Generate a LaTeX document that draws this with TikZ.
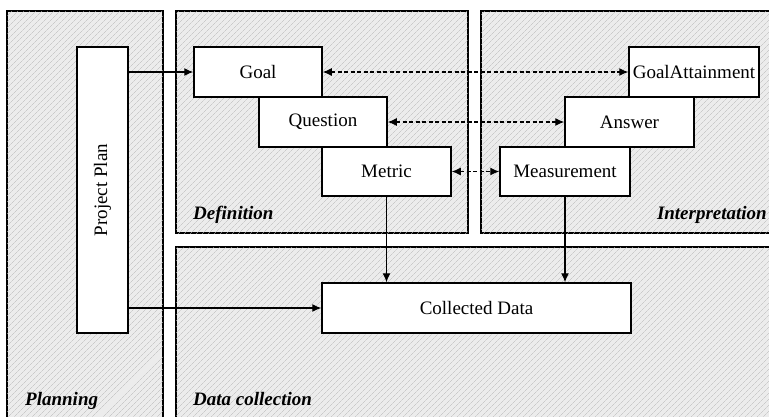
\documentclass[tikz,border=0pt]{standalone}
\usepackage{fontspec}
\setmainfont{Liberation Serif}
\usetikzlibrary{arrows.meta,patterns.meta}

\begin{document}
\begin{tikzpicture}[x=1pt,y=-1pt,
  panel/.style={draw=black,line width=1.6pt,fill=gray!15,
    postaction={pattern={Lines[angle=45,distance=4pt,line width=0.45pt]},pattern color=gray!55}},
  box/.style={draw,line width=1.5pt,fill=white,inner sep=0pt,font=\fontsize{19}{22}\selectfont},
  tag/.style={font=\fontsize{19}{22}\selectfont\bfseries\itshape,inner sep=0pt},
  tip/.tip={Latex[length=9pt,width=8pt]},
  flow/.style={line width=1.2pt,-tip},
  link/.style={line width=1.2pt,dash pattern=on 4pt off 2.5pt,tip-tip}]
  \useasboundingbox (0,0) rectangle (769,416);
  \clip (0,0) rectangle (769,416);

  % the four phase panels
  \path[panel] (7,11) rectangle (163,430);
  \path[panel] (176,11) rectangle (468,233);
  \path[panel] (481,11) rectangle (780,233);
  \path[panel] (176,247) rectangle (780,430);

  % panel titles
  \node[tag,anchor=base west] (tplan) at (25,405) {Planning};
  \node[tag,anchor=base west] (tdef) at (193,219) {Definition};
  \node[tag,anchor=base east] (tint) at (767,219) {Interpretation};
  \node[tag,anchor=base west] (tcol) at (193,405) {Data collection};

  % boxes
  \node[box,minimum width=51pt,minimum height=286pt] (plan) at (102.5,190) {\rotatebox{90}{Project Plan}};
  \node[box,minimum width=128pt,minimum height=50pt] (goal) at (258,72) {Goal};
  \node[box,minimum width=128pt,minimum height=50pt] (question) at (323,122) {Question};
  \node[box,minimum width=129pt,minimum height=49pt] (metric) at (386.5,171.5) {Metric};
  \node[box,minimum width=130pt,minimum height=50pt] (attain) at (694,72) {GoalAttainment};
  \node[box,minimum width=129pt,minimum height=50pt] (answer) at (629.5,122) {Answer};
  \node[box,minimum width=130pt,minimum height=49pt] (measure) at (565,171.5) {Measurement};
  \node[box,minimum width=309pt,minimum height=50pt] (data) at (476.5,308) {Collected Data};

  % connectors
  \draw[flow] (plan.east |- goal.west) -- (goal.west);
  \draw[flow] (plan.east |- data.west) -- (data.west);
  \draw[link] (goal.east) -- (attain.west);
  \draw[link] (question.east) -- (answer.west);
  \draw[link] (metric.east) -- (measure.west);
  \draw[flow] (metric.south) -- (metric.south |- data.north);
  \draw[flow] (measure.south) -- (measure.south |- data.north);
\end{tikzpicture}
\end{document}
